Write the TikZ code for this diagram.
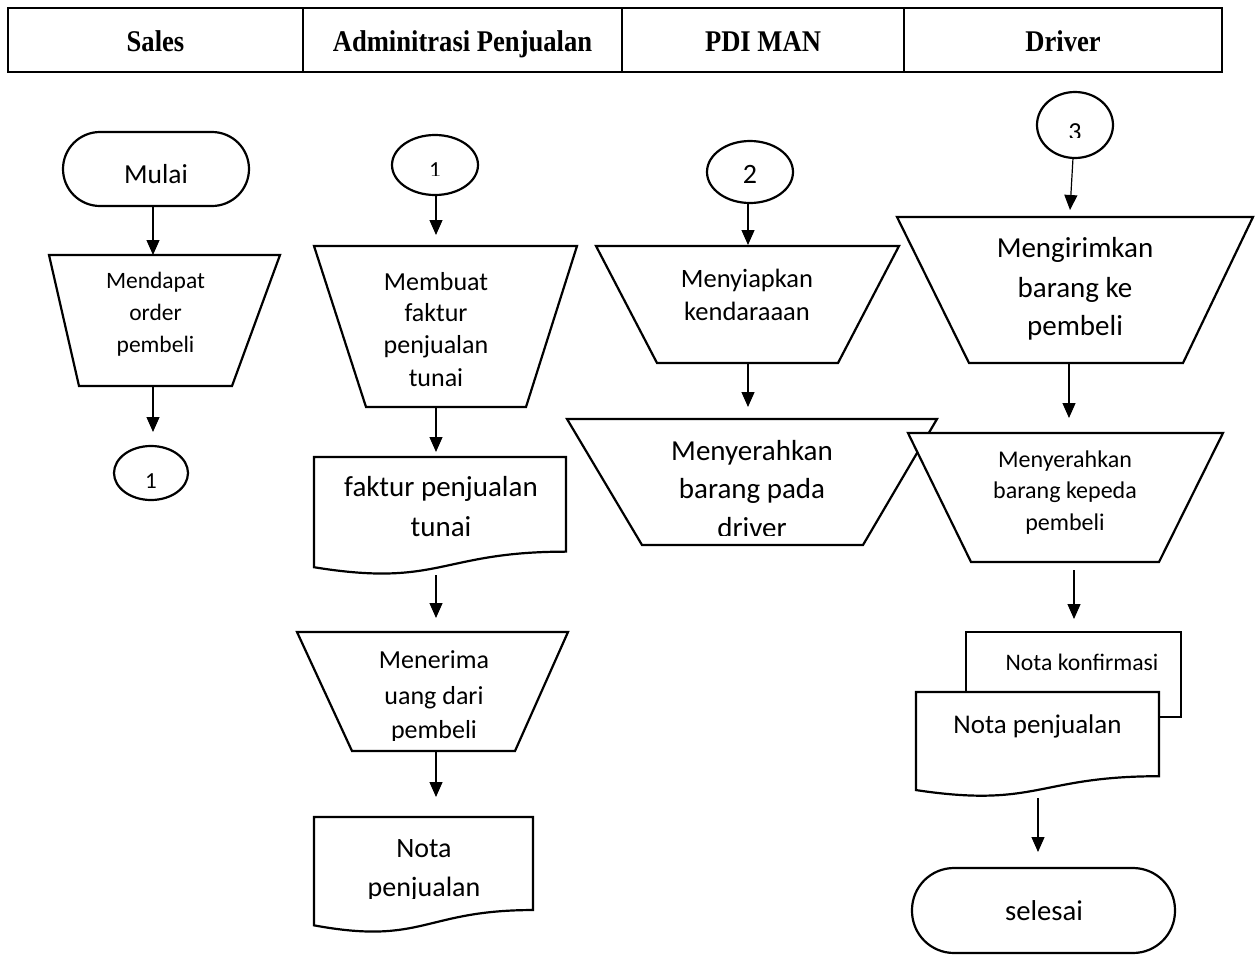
\documentclass[tikz,border=0pt]{standalone}
\usepackage{fontspec}
\setmainfont{Carlito}
\newfontfamily\headfont{Liberation Serif}
\usetikzlibrary{arrows.meta}

% trapezium (manual operation): top y, bottom y, top left x, top right x, bottom left x, bottom right x
\newcommand\trapz[6]{\draw[outline] (#3,#1) -- (#4,#1) -- (#6,#2) -- (#5,#2) -- cycle;}
% document symbol: left x, right x, top y, height
\newcommand\docshape[4]{\draw[outline] (#1,#3) -- (#2,#3) -- (#2,{#3+0.802*#4})
  .. controls ({(#1+#2)/2},{#3+0.802*#4}) and ({(#1+#2)/2},{#3+1.108*#4}) .. (#1,{#3+0.934*#4}) -- cycle;}
% text size in px
\newcommand\fsz[1]{\fontsize{#1}{#1}\selectfont}

\begin{document}
\begin{tikzpicture}[x=1pt,y=-1pt,
  outline/.style={draw=black,line width=2.2pt,line join=miter,fill=white},
  flow/.style={draw=black,line width=1.2pt,-{Triangle[length=15pt,width=13pt]}},
  lbl/.style={anchor=base,inner sep=0pt,text=black},
  hd/.style={anchor=base,inner sep=0pt,font=\headfont\bfseries\fsz{26.6}}]
\useasboundingbox[fill=white] (0,0) rectangle (1259,956);

% ---------- swimlane header ----------
\draw[line width=2.4pt] (8,8) rectangle (1222,72);
\draw[line width=2.4pt] (303,8) -- (303,72) (622,8) -- (622,72) (904,8) -- (904,72);
\node[hd] (h1) at (155.5,51) {\scalebox{1}[1.13]{Sales}};
\node[hd] (h2) at (462.5,51) {\scalebox{1}[1.13]{Adminitrasi Penjualan}};
\node[hd] (h3) at (763,51) {\scalebox{1}[1.13]{PDI MAN}};
\node[hd] (h4) at (1063,51) {\scalebox{1}[1.13]{Driver}};

% ---------- Sales ----------
\draw[outline,rounded corners=37pt] (63,132) rectangle (249,206);
\node[lbl,font=\fsz{27.5}] (mulai) at (156,183) {Mulai};
\trapz{255}{386}{49}{280}{79}{232}
\foreach \yb/\tx [count=\i] in {288/Mendapat,320/order,352/pembeli}
  \node[lbl,font=\fsz{23.5}] (order-\i) at (155.5,\yb) {\tx};
\draw[outline] (151,473) ellipse [x radius=37pt, y radius=27pt];
\begin{scope}
  \clip (120,455) rectangle (180,487);
  \node[lbl,font=\fsz{23}] (c1a) at (151,488.5) {1};
\end{scope}
\coordinate (mulai-b) at (153,206);
\coordinate (order-t) at (153,255);
\coordinate (order-b) at (153,386);
\coordinate (c1a-t) at (153,432);
\draw[flow] (mulai-b) -- (order-t);
\draw[flow] (order-b) -- (c1a-t);

% ---------- Adminitrasi Penjualan ----------
\draw[outline] (435,165) ellipse [x radius=43pt, y radius=30pt];
\begin{scope}
  \clip (410,140) rectangle (460,175);
  \node[lbl,font=\fsz{23}] (c1b) at (435,177.5) {1};
\end{scope}
\trapz{246}{407}{314}{577}{366}{526}
\foreach \yb/\tx [count=\i] in {290/Membuat,321/faktur,353/penjualan,386/tunai}
  \node[lbl,font=\fsz{26}] (faktur-\i) at (436,\yb) {\tx};
\docshape{314}{566}{457}{118}
\node[lbl,font=\fsz{29}] (fdoc-1) at (441,496) {faktur penjualan};
\node[lbl,font=\fsz{29}] (fdoc-2) at (441,536) {tunai};
\trapz{632}{751}{297}{568}{352}{515}
\begin{scope}
  \clip (330,640) rectangle (540,740);
  \foreach \yb/\tx [count=\i] in {668/Menerima,704/uang dari,738/pembeli}
    \node[lbl,font=\fsz{26}] (uang-\i) at (434,\yb) {\tx};
\end{scope}
\docshape{314}{533}{817}{116}
\begin{scope}
  \clip (320,825) rectangle (528,898);
  \node[lbl,font=\fsz{28}] (nota-1) at (424,857) {Nota};
  \node[lbl,font=\fsz{28}] (nota-2) at (424,896) {penjualan};
\end{scope}
\coordinate (c1b-b) at (436,195);
\coordinate (faktur-t) at (436,235);
\coordinate (faktur-b) at (436,407);
\coordinate (fdoc-t) at (436,452);
\coordinate (fdoc-b) at (436,575);
\coordinate (uang-t) at (436,618);
\coordinate (uang-b) at (436,751);
\coordinate (nota-t) at (436,797);
\draw[flow] (c1b-b) -- (faktur-t);
\draw[flow] (faktur-b) -- (fdoc-t);
\draw[flow] (fdoc-b) -- (uang-t);
\draw[flow] (uang-b) -- (nota-t);

% ---------- PDI MAN ----------
\draw[outline] (750,172) ellipse [x radius=43pt, y radius=31pt];
\node[lbl,font=\fsz{28}] (c2) at (750,183) {2};
\trapz{246}{363}{596}{899}{657}{838}
\node[lbl,font=\fsz{26.5}] (siap-1) at (747,287) {Menyiapkan};
\node[lbl,font=\fsz{26.5}] (siap-2) at (747,320) {kendaraaan};
\trapz{419}{545}{567}{937}{642}{863}
\begin{scope}
  \clip (600,425) rectangle (900,535);
  \foreach \yb/\tx [count=\i] in {460/Menyerahkan,498/barang pada,537/driver}
    \node[lbl,font=\fsz{29}] (serah-\i) at (752,\yb) {\tx};
\end{scope}
\coordinate (c2-b) at (748,203);
\coordinate (siap-t) at (748,245);
\coordinate (siap-b) at (748,363);
\coordinate (serah-t) at (748,407);
\draw[flow] (c2-b) -- (siap-t);
\draw[flow] (siap-b) -- (serah-t);

% ---------- Driver ----------
\draw[outline] (1075,125) ellipse [x radius=38pt, y radius=33pt];
\begin{scope}
  \clip (1050,100) rectangle (1100,137);
  \node[lbl,font=\fsz{26}] (c3) at (1075,140.5) {3};
\end{scope}
\trapz{217}{363}{897}{1253}{969}{1183}
\foreach \yb/\tx [count=\i] in {257/Mengirimkan,297/barang ke,335/pembeli}
  \node[lbl,font=\fsz{29}] (kirim-\i) at (1075,\yb) {\tx};
\trapz{433}{562}{908}{1223}{971}{1159}
\foreach \yb/\tx [count=\i] in {467/Menyerahkan,498/barang kepeda,530/pembeli}
  \node[lbl,font=\fsz{24}] (beri-\i) at (1065,\yb) {\tx};
\draw[outline] (966,632) rectangle (1181,717);
\node[lbl,font=\fsz{23.7}] (konf) at (1082,670) {Nota konfirmasi};
\docshape{916}{1159}{692}{105}
\node[lbl,font=\fsz{27}] (njual) at (1037.5,733) {Nota penjualan};
\draw[outline,rounded corners=42pt] (912,868) rectangle (1175,953);
\node[lbl,font=\fsz{28.7}] (selesai) at (1044,920) {selesai};
\coordinate (c3-b) at (1073,158);
\coordinate (kirim-t) at (1070,210);
\coordinate (kirim-b) at (1069,363);
\coordinate (beri-t) at (1069,418);
\coordinate (beri-b) at (1074,570);
\coordinate (konf-t) at (1074,619);
\coordinate (njual-b) at (1038,798);
\coordinate (selesai-t) at (1038,852);
\draw[flow] (c3-b) -- (kirim-t);
\draw[flow] (kirim-b) -- (beri-t);
\draw[flow] (beri-b) -- (konf-t);
\draw[flow] (njual-b) -- (selesai-t);
\end{tikzpicture}
\end{document}
